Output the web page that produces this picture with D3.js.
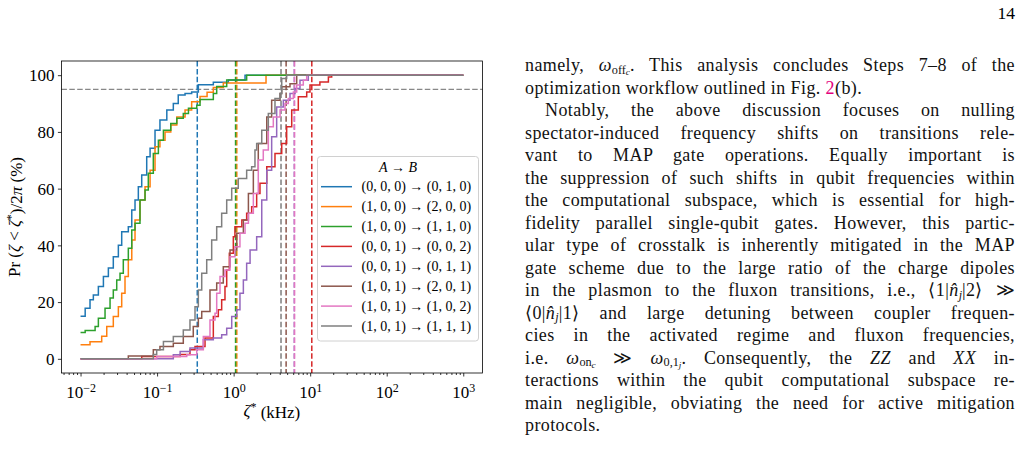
<!DOCTYPE html>
<html>
<head>
<meta charset="utf-8">
<script src="https://cdn.jsdelivr.net/npm/d3@7"></script>
<style>
  body { margin: 0; background: #fff; width: 1021px; height: 449px; overflow: hidden; }
  #chart { position: absolute; left: 0; top: 0; }
  .line {
    position: absolute; left: 525px; width: 490px; height: 22.5px;
    font-family: "Liberation Serif", serif; font-size: 18px; line-height: 22.5px;
    letter-spacing: 0.4px;
    color: #111; text-align: justify; text-align-last: justify;
  }
  .line.last { text-align-last: left; }
  .line sub { font-size: 0.68em; vertical-align: baseline; position: relative; top: 0.22em; line-height: 0; letter-spacing: 0; }
  .line sub sub { font-size: 0.75em; top: 0.15em; }
  .ref { color: #e4007c; }
  .nw { white-space: nowrap; }
  #pageno { position: absolute; right: 6px; top: 3px; font-family: "Liberation Serif", serif; font-size: 17.5px; }
</style>
</head>
<body>
<svg id="chart" width="520" height="449"></svg>
<div id="page"></div>
<div id="pageno">14</div>
<script>
// legend labels, in drawing order
const transitions = [
  ["(0, 0, 0)", "(0, 1, 0)"],
  ["(1, 0, 0)", "(2, 0, 0)"],
  ["(1, 0, 0)", "(1, 1, 0)"],
  ["(0, 0, 1)", "(0, 0, 2)"],
  ["(0, 0, 1)", "(0, 1, 1)"],
  ["(1, 0, 1)", "(2, 0, 1)"],
  ["(1, 0, 1)", "(1, 0, 2)"],
  ["(1, 0, 1)", "(1, 1, 1)"]
];
const colors = ["#1f77b4", "#ff7f0e", "#2ca02c", "#d62728", "#9467bd", "#8c564b", "#e377c2", "#7f7f7f"];

// cumulative distributions: [zeta* in kHz, Pr in %]
const cdf000_010 = [[0.010,15],[0.0115,17.8],[0.0133,20.8],[0.0147,22.5],[0.0171,25.5],[0.0199,29],[0.0231,32],[0.0268,36],[0.0312,40],[0.0345,44.8],[0.0421,46.6],[0.0467,52.5],[0.0515,56],[0.0569,60.7],[0.063,64.8],[0.0732,71.2],[0.081,74.2],[0.094,80.6],[0.109,84.2],[0.134,87.7],[0.163,90],[0.189,93],[0.232,93.5],[0.283,94.1],[0.346,96.6],[0.543,97.5],[0.853,98.3],[1.41,100],[1000,100]];
const cdf100_200 = [[0.010,5],[0.0133,6],[0.0189,8],[0.022,11.4],[0.0268,14.9],[0.0312,18.4],[0.0345,23.1],[0.0381,29],[0.0421,34.9],[0.0467,41.9],[0.0515,48.9],[0.0598,56],[0.0696,60.7],[0.081,66.5],[0.094,74.8],[0.109,77.1],[0.127,80],[0.151,82.4],[0.181,85.3],[0.232,87.7],[0.283,90.6],[0.364,92.5],[0.45,94],[0.543,95.7],[0.733,97.2],[2.65,100],[1000,100]];
const cdf100_110 = [[0.010,9.3],[0.0115,10],[0.0155,11.4],[0.0171,14.3],[0.0209,17.8],[0.0243,21.4],[0.0268,24.3],[0.0297,27.8],[0.0328,30.2],[0.0362,34.9],[0.0421,39],[0.0467,45.4],[0.0515,47.8],[0.0598,56],[0.0696,59.5],[0.0768,65.4],[0.0893,72.4],[0.104,77.1],[0.121,80.6],[0.151,83],[0.181,84.8],[0.220,86.5],[0.257,88.3],[0.330,89.4],[0.364,91.4],[0.543,93.5],[0.601,96],[0.812,98.3],[1.48,100],[1000,100]];
const cdf001_002 = [[0.010,0],[0.063,0.8],[0.20,1.5],[0.269,3.2],[0.313,4.3],[0.423,7.3],[0.543,14.9],[0.631,17.3],[0.698,20.8],[0.771,25.5],[0.812,31.3],[0.879,37.2],[0.991,43],[1.04,46.6],[1.28,48.9],[1.48,51.3],[1.72,53.6],[2.0,58.3],[2.21,61.9],[2.71,67.7],[3.47,72.4],[4.25,75.9],[4.93,81.8],[5.74,87.7],[7.0,92.4],[9.01,94.1],[9.95,96.5],[13.4,97.6],[17.3,99.4],[19.1,100],[1000,100]];
const cdf001_011 = [[0.010,0],[0.163,1.4],[0.20,2.6],[0.269,3.8],[0.402,6.7],[0.543,7.3],[0.698,8.5],[0.812,10.8],[0.944,14.9],[1.10,17.3],[1.21,23.1],[1.34,27.8],[1.48,33.7],[1.64,38.4],[2.0,43],[2.33,56],[2.71,66.5],[3.14,78.3],[3.65,88.8],[4.46,91.2],[5.45,93.5],[6.34,95.3],[7.36,98.2],[9.45,100],[1000,100]];
const cdf101_201 = [[0.010,0],[0.0421,1],[0.0893,3.2],[0.109,4.3],[0.163,5.5],[0.220,7.9],[0.297,11.4],[0.346,14.3],[0.383,16.7],[0.491,24.3],[0.601,26.7],[0.733,32.5],[0.897,38.4],[1.10,44.3],[1.34,48.9],[1.56,58.3],[1.81,66.5],[2.10,75.9],[2.71,85.3],[3.14,91.2],[4.04,93.5],[4.25,95.9],[5.45,97],[6.67,100],[1000,100]];
const cdf101_102 = [[0.010,0],[0.0988,0.8],[0.244,1.4],[0.330,3.2],[0.402,7.9],[0.491,13.7],[0.571,16.1],[0.601,23.1],[0.664,29],[0.771,31.3],[0.897,36],[1.04,39.5],[1.21,44.3],[1.41,47.8],[1.56,51.3],[1.81,58.3],[2.10,70.1],[2.44,73.6],[2.84,81.8],[3.30,85.3],[4.04,87.7],[4.69,90],[5.18,91.8],[6.03,94.1],[6.67,96.5],[8.13,98.2],[9.01,100],[1000,100]];
const cdf101_111 = [[0.010,0],[0.0893,1.5],[0.0988,3.2],[0.121,6.1],[0.163,7.9],[0.220,10.2],[0.269,13.7],[0.313,18.4],[0.346,24.3],[0.383,30.2],[0.445,34.9],[0.517,41.9],[0.601,46.6],[0.698,51.3],[0.812,56],[0.944,60.1],[1.15,63.6],[1.48,66.5],[1.72,67.7],[1.9,73.6],[2.0,75.9],[2.33,80.6],[2.84,86.5],[3.47,91.8],[4.04,93.5],[4.25,98.8],[4.93,100],[1000,100]];
const allCdfs = [cdf000_010, cdf100_200, cdf100_110, cdf001_002, cdf001_011, cdf101_201, cdf101_102, cdf101_111];

// 95th percentile of each transition (kHz), same order
const zeta95 = [0.335, 1.10, 1.06, 10.5, 6.2, 4.85, 6.25, 4.16];
const targetPct = 95;

const xMajor = [0.01, 0.1, 1, 10, 100, 1000];
const xExp = ["−2", "−1", "0", "1", "2", "3"];
const yTicks = [0, 20, 40, 60, 80, 100];

const serif = '"Liberation Serif", "Times New Roman", serif';
const plotLeft = 61.4, plotRight = 482.4, plotTop = 61, plotBottom = 373;

const svg = d3.select("#chart");

const x = d3.scaleLog()
  .domain([0.01 / Math.pow(10, 0.25), 1000 * Math.pow(10, 0.25)])
  .range([plotLeft, plotRight]);
const y = d3.scaleLinear().domain([-5, 105]).range([plotBottom, plotTop]);

// minor log ticks
const xMinor = [];
for (let e = -3; e <= 3; e++) {
  for (let k = 2; k <= 9; k++) {
    const v = k * Math.pow(10, e);
    if (v > x.domain()[0] && v < x.domain()[1]) xMinor.push(v);
  }
}

// axes
const gxMinor = svg.append("g")
  .attr("transform", `translate(0,${plotBottom})`)
  .call(d3.axisBottom(x).tickValues(xMinor).tickSize(2).tickFormat(""));
const gx = svg.append("g")
  .attr("transform", `translate(0,${plotBottom})`)
  .call(d3.axisBottom(x).tickValues(xMajor).tickSize(3.5).tickPadding(4).tickFormat(""));
const gy = svg.append("g")
  .attr("transform", `translate(${plotLeft},0)`)
  .call(d3.axisLeft(y).tickValues(yTicks).tickSize(3.5).tickPadding(3.5));

[gxMinor, gx, gy].forEach(g => {
  g.select(".domain").remove();
  g.selectAll("line").attr("stroke", "#000").attr("stroke-width", 0.8);
  g.attr("font-family", serif).attr("font-size", 17);
});
gy.selectAll("text").attr("fill", "#000").attr("dy", "0.34em");

gx.selectAll("text")
  .attr("fill", "#000")
  .attr("dy", "1em")
  .each(function(d, i) {
    const t = d3.select(this);
    t.text(null);
    t.append("tspan").text("10");
    t.append("tspan").attr("dy", "-0.5em").attr("font-size", 12).text(xExp[i]);
  });

// reference lines
svg.append("line")
  .attr("x1", plotLeft).attr("x2", plotRight)
  .attr("y1", y(targetPct)).attr("y2", y(targetPct))
  .attr("stroke", "#888").attr("stroke-width", 1.4)
  .attr("stroke-dasharray", "5.5,2.4");

svg.append("g").selectAll("line")
  .data(zeta95)
  .join("line")
  .attr("x1", d => x(d)).attr("x2", d => x(d))
  .attr("y1", plotTop).attr("y2", plotBottom)
  .attr("stroke", (d, i) => colors[i])
  .attr("stroke-width", 1.5)
  .attr("stroke-dasharray", "5.5,2.4");

// curves
const line = d3.line()
  .x(d => x(d[0]))
  .y(d => y(d[1]))
  .curve(d3.curveStepAfter);

svg.append("g").selectAll("path")
  .data(allCdfs)
  .join("path")
  .attr("d", line)
  .attr("fill", "none")
  .attr("stroke", (d, i) => colors[i])
  .attr("stroke-width", 1.5)
  .attr("stroke-linejoin", "miter");

// frame
svg.append("rect")
  .attr("x", plotLeft).attr("y", plotTop)
  .attr("width", plotRight - plotLeft).attr("height", plotBottom - plotTop)
  .attr("fill", "none").attr("stroke", "#000").attr("stroke-width", 0.8);

// axis labels
const xl = svg.append("text")
  .attr("x", (plotLeft + plotRight) / 2).attr("y", 416)
  .attr("text-anchor", "middle")
  .attr("font-family", serif).attr("font-size", 17);
xl.append("tspan").attr("font-style", "italic").text("ζ");
xl.append("tspan").attr("dy", "-0.45em").attr("font-size", 12).text("*");
xl.append("tspan").attr("dy", "0.45em").text(" (kHz)");

const yl = svg.append("text")
  .attr("transform", `translate(20,${(plotTop + plotBottom) / 2}) rotate(-90)`)
  .attr("text-anchor", "middle")
  .attr("font-family", serif).attr("font-size", 17);
yl.append("tspan").text("Pr (");
yl.append("tspan").attr("font-style", "italic").text("ζ");
yl.append("tspan").text(" < ");
yl.append("tspan").attr("font-style", "italic").text("ζ");
yl.append("tspan").attr("dy", "-0.45em").attr("font-size", 12).text("*");
yl.append("tspan").attr("dy", "0.45em").text(")/2");
yl.append("tspan").attr("font-style", "italic").text("π");
yl.append("tspan").text(" (%)");

// legend
const lg = svg.append("g").attr("font-family", serif).attr("font-size", 14);
lg.append("rect")
  .attr("x", 317.5).attr("y", 156.5).attr("width", 161).attr("height", 184.5)
  .attr("rx", 3).attr("fill", "#fff").attr("fill-opacity", 0.85)
  .attr("stroke", "#d0d0d0").attr("stroke-width", 1);

const title = lg.append("text").attr("x", 398).attr("y", 171.5).attr("text-anchor", "middle");
title.append("tspan").attr("font-style", "italic").text("A");
title.append("tspan").text(" → ");
title.append("tspan").attr("font-style", "italic").text("B");

const rows = lg.selectAll("g.row")
  .data(transitions)
  .join("g")
  .attr("class", "row")
  .attr("transform", (d, i) => `translate(0,${186.7 + i * 19.9})`);
rows.append("line")
  .attr("x1", 321).attr("x2", 352)
  .attr("stroke", (d, i) => colors[i]).attr("stroke-width", 1.5);
rows.append("text")
  .attr("x", 361.5).attr("dy", "0.33em")
  .text(d => `${d[0]} → ${d[1]}`);

// page text
const pageLines = [
  { html: 'namely, <i>ω</i><sub>off<sub><i>c</i></sub></sub>. This analysis concludes Steps 7–8 of the' },
  { html: 'optimization workflow outlined in Fig. <span class="ref">2</span>(b).', last: true },
  { html: 'Notably, the above discussion focuses on nulling', indent: true },
  { html: 'spectator-induced frequency shifts on transitions rele-' },
  { html: 'vant to MAP gate operations. Equally important is' },
  { html: 'the suppression of such shifts in qubit frequencies within' },
  { html: 'the computational subspace, which is essential for high-' },
  { html: 'fidelity parallel single-qubit gates. However, this partic-' },
  { html: 'ular type of crosstalk is inherently mitigated in the MAP' },
  { html: 'gate scheme due to the large ratio of the charge dipoles' },
  { html: 'in the plasmon to the fluxon transitions, i.e., <span class="nw">⟨1|<i>n̂</i><sub><i>j</i></sub>|2⟩</span> ≫' },
  { html: '<span class="nw">⟨0|<i>n̂</i><sub><i>j</i></sub>|1⟩</span> and large detuning between coupler frequen-' },
  { html: 'cies in the activated regime and fluxon frequencies,' },
  { html: 'i.e. <i>ω</i><sub>on<sub><i>c</i></sub></sub> ≫ <i>ω</i><sub>0,1<sub><i>j</i></sub></sub>. Consequently, the <i>ZZ</i> and <i>XX</i> in-' },
  { html: 'teractions within the qubit computational subspace re-' },
  { html: 'main negligible, obviating the need for active mitigation' },
  { html: 'protocols.', last: true }
];

d3.select("#page").selectAll("div")
  .data(pageLines)
  .join("div")
  .attr("class", d => d.last ? "line last" : "line")
  .style("top", (d, i) => (54 + i * 22.5) + "px")
  .style("text-indent", d => d.indent ? "20px" : "0px")
  .html(d => d.html);
</script>
</body>
</html>
